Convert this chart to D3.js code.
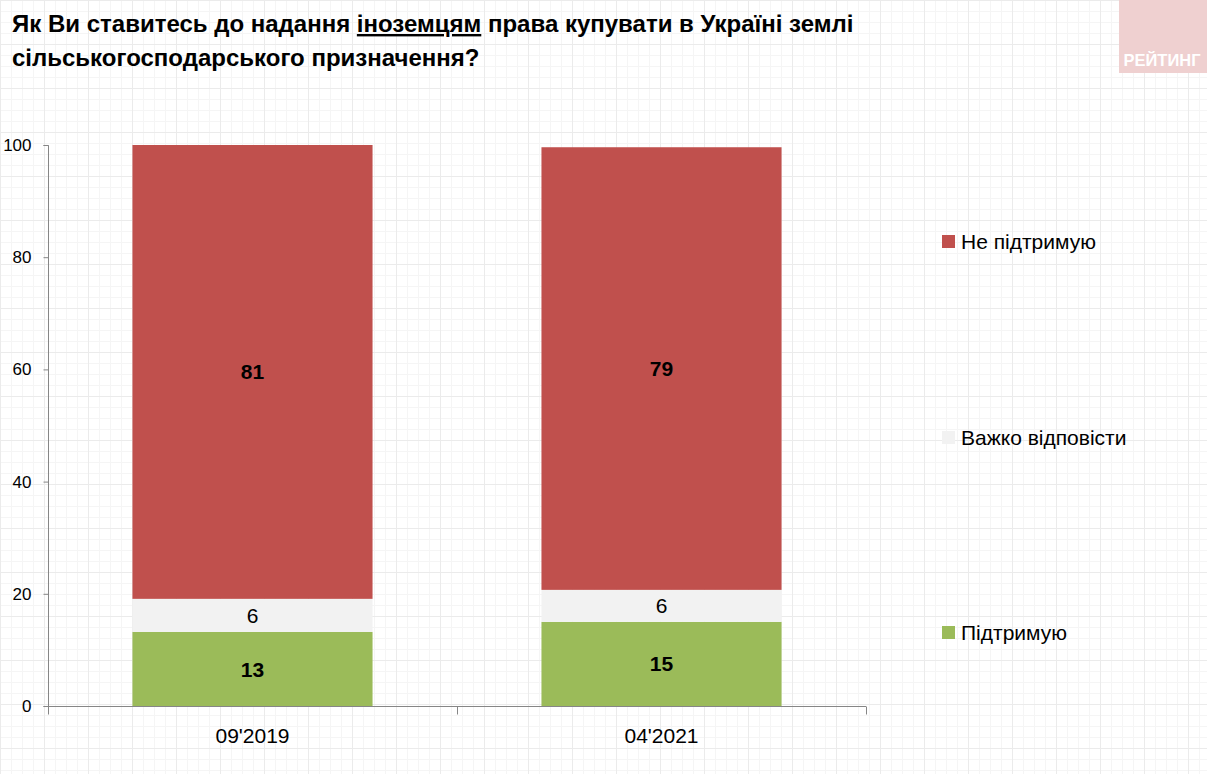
<!DOCTYPE html>
<html><head><meta charset="utf-8">
<script src="https://cdn.jsdelivr.net/npm/d3@7"></script>
<style>
body{margin:0;background:#fff;}
svg{display:block;}
</style></head><body>
<svg id="c" width="1207" height="774"></svg>
<script>
const categories = ["09'2019", "04'2021"];
const seriesNames = ["Підтримую", "Важко відповісти", "Не підтримую"];
const support = [13.2, 15.0];
const hard = [5.9, 5.7];
const oppose = [80.9, 78.9];
const yTicks = [0, 20, 40, 60, 80, 100];
const colors = ["#9BBB59", "#F2F2F2", "#C0504D"];
const titleLines = ["Як Ви ставитесь до надання ", "іноземцям", " права купувати в Україні землі", "сільськогосподарського призначення?"];

const FONT = "'Liberation Sans',Arial,sans-serif";
const svg = d3.select("#c");

// background graph paper
const defs = svg.append("defs");
const pat = defs.append("pattern").attr("id","grid").attr("width",44).attr("height",44).attr("patternUnits","userSpaceOnUse");
pat.append("rect").attr("width",44).attr("height",44).attr("fill","#fff");
[11,22,33].forEach(v=>{
  pat.append("line").attr("x1",v+0.5).attr("x2",v+0.5).attr("y1",0).attr("y2",44).attr("stroke","#f5f5f5");
  pat.append("line").attr("y1",v+0.5).attr("y2",v+0.5).attr("x1",0).attr("x2",44).attr("stroke","#f5f5f5");
});
pat.append("line").attr("x1",0.5).attr("x2",0.5).attr("y1",0).attr("y2",44).attr("stroke","#ebebeb");
pat.append("line").attr("y1",0.5).attr("y2",0.5).attr("x1",0).attr("x2",44).attr("stroke","#ebebeb");
svg.append("rect").attr("width",1207).attr("height",774).attr("fill","url(#grid)");

// logo
svg.append("rect").attr("x",1119).attr("y",0).attr("width",88).attr("height",73).attr("fill","#EFD0D0");
svg.append("text").attr("x",1162).attr("y",66).attr("text-anchor","middle")
  .attr("font-family",FONT).attr("font-weight","bold")
  .attr("font-size",16.5).attr("fill","#fff").text("РЕЙТИНГ");

// title
const t1 = svg.append("text").attr("x",12).attr("y",32).attr("font-family",FONT)
  .attr("font-weight","bold").attr("font-size",24).attr("fill","#000");
t1.append("tspan").text(titleLines[0]);
t1.append("tspan").attr("text-decoration","underline").text(titleLines[1]);
t1.append("tspan").text(titleLines[2]);
svg.append("text").attr("x",12).attr("y",66).attr("font-family",FONT)
  .attr("font-weight","bold").attr("font-size",24).attr("fill","#000").text(titleLines[3]);

// scales
const x = d3.scaleBand().domain(categories).range([48,866]).paddingInner(0.413).paddingOuter(0.2065);
const xb = d3.scaleBand().domain(categories).range([48,866]);
const y = d3.scaleLinear().domain([0,100]).range([706,145]);

const data = categories.map((c,i)=>({cat:c, s0:support[i], s1:hard[i], s2:oppose[i]}));
const stack = d3.stack().keys(["s0","s1","s2"])(data);

const g = svg.append("g");
stack.forEach((layer,li)=>{
  g.selectAll(null).data(layer).enter().append("rect")
    .attr("x",d=>x(d.data.cat)).attr("width",x.bandwidth())
    .attr("y",d=>y(d[1])).attr("height",d=>y(d[0])-y(d[1]))
    .attr("fill",colors[li]);
  g.selectAll(null).data(layer).enter().append("text")
    .attr("x",d=>x(d.data.cat)+x.bandwidth()/2)
    .attr("y",d=>(y(d[0])+y(d[1]))/2)
    .attr("dy","0.36em").attr("text-anchor","middle")
    .attr("font-family",FONT).attr("font-size",21)
    .attr("font-weight", li===1 ? "normal" : "bold")
    .attr("fill","#000")
    .text(d=>d3.format(".0f")(d[1]-d[0]));
});

// y axis
const yAxis = d3.axisLeft(y).tickValues(yTicks).tickSize(5).tickPadding(12);
const ya = svg.append("g").attr("transform","translate(48.5,0)").call(yAxis);
ya.selectAll("path,line").attr("stroke","#868686");
ya.select(".domain").attr("d","M-5,145.5H0V706.5H-5");
ya.selectAll("text").attr("font-family",FONT).attr("font-size",17).attr("fill","#000");

// x axis
const xAxis = d3.axisBottom(xb).tickSize(0).tickPadding(22);
const xa = svg.append("g").attr("transform","translate(0,706.5)").call(xAxis);
xa.select(".domain").attr("stroke","#868686").attr("d","M48,0H866");
xa.selectAll("text").attr("font-family",FONT).attr("font-size",21).attr("fill","#000");
xa.selectAll(null).data([48,457,866]).enter().append("line")
  .attr("x1",d=>d+0.5).attr("x2",d=>d+0.5).attr("y1",0).attr("y2",8).attr("stroke","#868686");

// legend
const legY = [242, 438, 633];
const leg = svg.append("g");
[2,1,0].forEach((si,k)=>{
  leg.append("rect").attr("x",942).attr("y",legY[k]-7).attr("width",13).attr("height",13).attr("fill",colors[si]);
  leg.append("text").attr("x",961).attr("y",legY[k]).attr("dy","0.35em")
    .attr("font-family",FONT).attr("font-size",21).attr("fill","#000").text(seriesNames[si]);
});
</script></body></html>
